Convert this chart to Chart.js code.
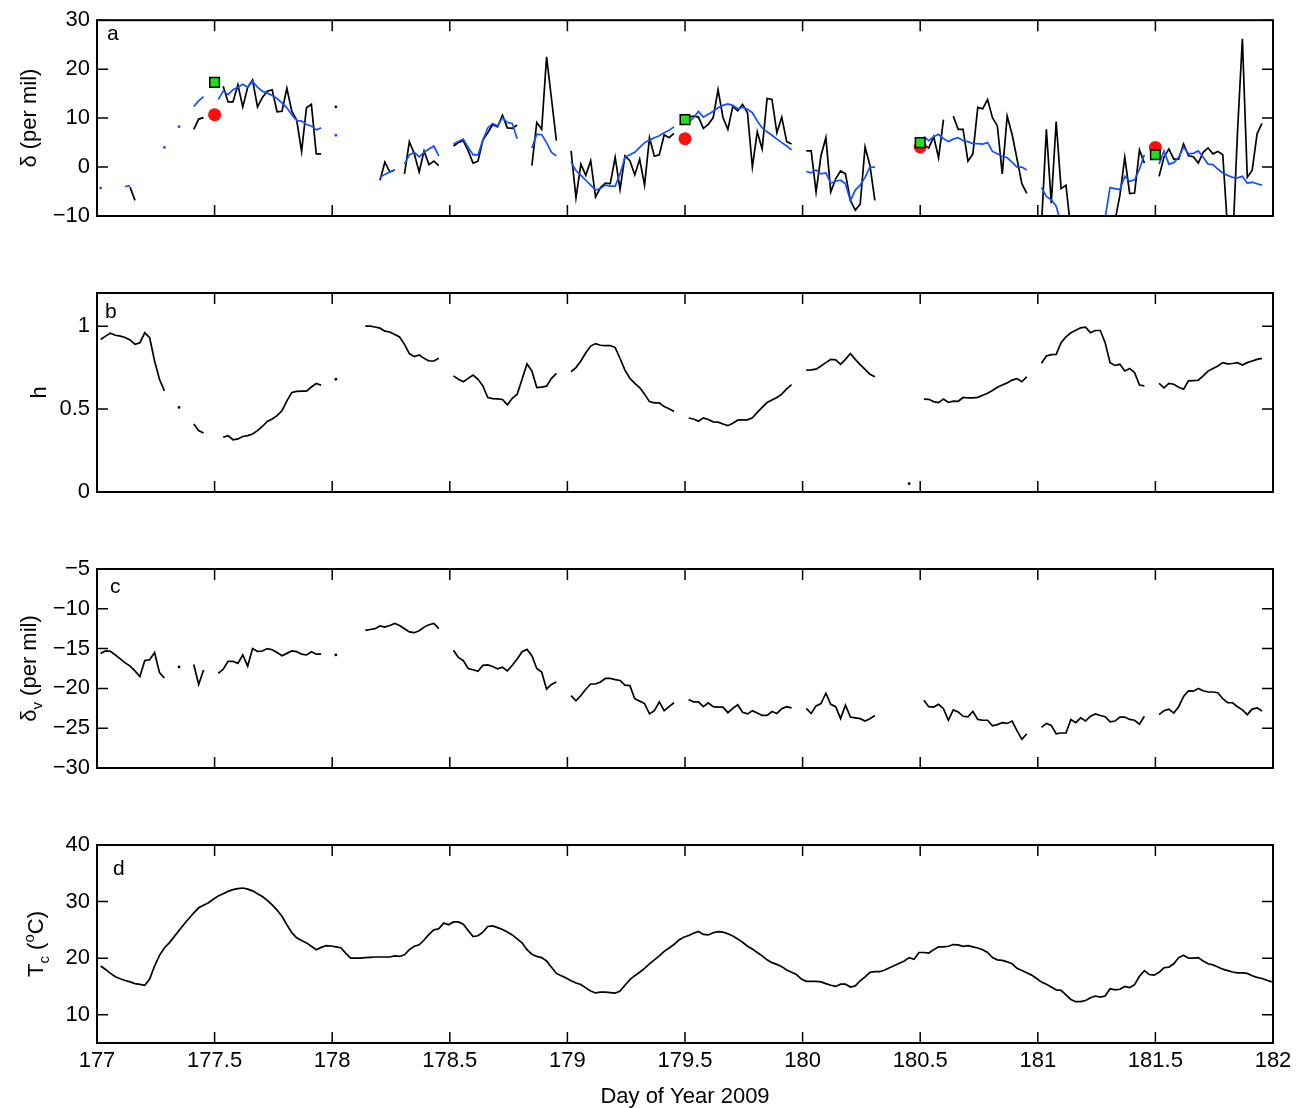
<!DOCTYPE html>
<html>
<head>
<meta charset="utf-8">
<script src="https://cdn.jsdelivr.net/npm/chart.js@4.4.1/dist/chart.umd.min.js"></script>
<style>
html,body{margin:0;padding:0;background:#fff;}
#wrap{position:relative;width:1302px;height:1108px;background:#fff;}
#wrap canvas{position:absolute;left:0;top:0;}
</style>
</head>
<body>
<div id="wrap">
<canvas id="pa" width="1302" height="1108"></canvas>
<canvas id="pb" width="1302" height="1108"></canvas>
<canvas id="pc" width="1302" height="1108"></canvas>
<canvas id="pd" width="1302" height="1108"></canvas>
</div>
<script>
// ---------------- data ----------------
// half-hourly samples; sample j is at day 177 + (j + 0.75)/48
const nSamples = 240;
const firstOffset = 0.75;
const samplesPerDay = 48;
const startDay = 177;

const xTicks = [177, 177.5, 178, 178.5, 179, 179.5, 180, 180.5, 181, 181.5, 182];
const aYTicks = [-10, 0, 10, 20, 30];
const bYTicks = [0, 0.5, 1];
const cYTicks = [-30, -25, -20, -15, -10, -5];
const dYTicks = [10, 20, 30, 40];

// panel a: delta (per mil), black = measured, blue = smoothed; segments [startSample, values]
const deltaBlackSegs = [
  [6, [-4.1, -6.8]],
  [19, [7.7, 9.8, 10.1]],
  [25, [16.5, 13.3, 13.3, 16.8, 12.3, 16.3, 17.8, 12.3, 14.2, 15.5, 15.8, 11.3, 11.4, 16.1, 11.4, 9.6, 3.2, 12.1, 12.8, 2.7, 2.7]],
  [48, [12.3]],
  [57, [-2.7, 1.0, -1.0, -0.6]],
  [62, [-1.4, 5.2, 2.7, -1.0, 3.3, 0.5, 1.2, 0.3]],
  [72, [4.3, 5.0, 5.4, 3.3, 0.8, 1.2, 5.5, 7.0, 8.7, 8.2, 10.6, 8.0, 7.9, 8.6]],
  [88, [0.3, 9.1, 7.7, 22.5, 14.0, 5.4]],
  [96, [3.3, -6.3, 0.6, -1.7, 1.3, -6.1, -4.2, -3.3, -3.4, 2.0, -4.6, 2.3, 1.3, -1.6, 1.6, -3.7, 6.0, 2.2, 2.5, 6.6, 6.0, 6.9]],
  [120, [10.2, 10.4, 10.2, 7.9, 8.7, 10.1, 15.8, 10.1, 7.7, 12.4, 11.5, 12.8, 11.1, 0.0, 7.2, 3.7, 14.0, 13.8, 7.0, 10.2, 5.2, 4.7]],
  [144, [3.3, 3.3, -5.1, 2.3, 6.0, -5.1, -2.4, -0.8, -1.4, -6.8, -8.8, -7.6, 4.1, 0.3, -6.8]],
  [168, [4.5, 3.9, 6.2, 1.9, 9.7]],
  [174, [10.4, 7.7, 7.7, 1.2, 2.7, 12.2, 11.9, 13.8, 10.1, 8.4, -1.4, 10.4, 6.7, 1.7, -3.4, -5.4]],
  [192, [-12, 7.7, -7.4, 9.3, -4.4, -3.7, -13, -15, -14, -16, -15, -14, -15, -14, -12, -11, -5.8, 2.0, -5.4, -5.3, 3.5, 0.8]],
  [216, [-1.9, 2.0, 3.7, 1.6, 1.6, 4.7, 2.3, 2.1, 0.8, 3.0, 3.9, 2.7, 3.2, 2.5, -13, -16, 7, 26.2, -2.1, -0.7, 6.8, 8.9]]
];
const deltaBlueSegs = [
  [0, [-4.3]],
  [5, [-4.0, -3.8]],
  [13, [4.0]],
  [16, [8.25]],
  [19, [12.4, 13.5, 14.4]],
  [24, [13.8, 15.5, 14.8, 15.8, 16.3, 16.9, 16.3, 17.5, 16.3, 15.5, 15.1, 14.6, 14.0, 13.1, 12.1, 10.7, 9.5, 9.4, 8.7, 8.4, 7.6, 8.0]],
  [48, [6.5]],
  [57, [-2.1, -1.5, -1.0, -0.6]],
  [62, [0.6, 2.5, 3.0, 2.1, 3.0, 3.7, 4.3, 2.3]],
  [72, [4.7, 5.2, 5.7, 4.0, 2.5, 2.5, 5.5, 8.0, 8.9, 8.4, 10.1, 9.1, 8.9, 5.8]],
  [88, [3.9, 6.7, 6.6, 5.0, 3.0, 2.3]],
  [96, [1.0, -0.7, -1.7, -2.7, -3.7, -4.7, -4.4, -3.7, -3.9, -3.9, -1.4, 2.0, 2.5, 3.0, 4.0, 5.0, 5.5, 6.0, 6.4, 7.0, 7.5, 8.2]],
  [120, [9.1, 10.1, 11.4, 10.2, 10.8, 11.4, 12.1, 12.6, 12.9, 12.6, 11.9, 12.2, 11.8, 11.1, 9.4, 8.0, 7.2, 6.5, 5.7, 5.0, 4.3, 3.5]],
  [144, [-0.9, -1.2, -0.6, -1.4, -1.2, -3.3, -2.9, -2.7, -3.4, -6.9, -4.7, -3.7, -2.1, 0.0, 0.0]],
  [168, [6.2, 5.4, 6.2, 6.7, 5.8, 5.2, 5.7, 6.0, 5.4, 5.2, 4.8, 4.8, 4.7, 5.0, 3.2, 2.7, 2.2, 1.9, 1.0, 0.0, 0.0, -0.6]],
  [192, [-4.2, -6.0, -6.7, -8.0, -11.5, -13, -15, -16, -15, -16, -15, -14, -13, -10.3, -4.2, -4.4, -4.6, -1.9, -2.9, -2.6, -0.4, 2.5]],
  [216, [0.6, 3.3, 0.6, 0.9, 2.0, 4.1, 2.7, 2.8, 3.3, 2.0, 0.6, 0.5, -0.4, -1.2, -1.7, -2.1, -2.2, -1.9, -3.3, -3.1, -3.4, -3.7]]
];
const markerDays = [177.5, 179.5, 180.5, 181.5];
const redValues = [10.7, 5.8, 4.1, 4.0];
const greenValues = [17.3, 9.7, 5.0, 2.5];

// panel b: h
const hSegs = [
  [0, [0.92, 0.94, 0.958, 0.945, 0.94, 0.932, 0.917, 0.89, 0.90, 0.96, 0.93, 0.79, 0.68, 0.61]],
  [16, [0.51]],
  [19, [0.41, 0.37, 0.356]],
  [25, [0.33, 0.34, 0.315, 0.32, 0.335, 0.34, 0.35, 0.37, 0.395, 0.425, 0.44, 0.46, 0.49, 0.55, 0.60, 0.607, 0.608, 0.608, 0.633, 0.654, 0.644]],
  [48, [0.68]],
  [54, [1.0, 1.0, 0.995, 0.988, 0.97, 0.965, 0.95, 0.935, 0.89, 0.835, 0.816, 0.826, 0.806, 0.79, 0.79, 0.806]],
  [72, [0.70, 0.68, 0.665, 0.685, 0.705, 0.68, 0.64, 0.57, 0.563, 0.562, 0.558, 0.525, 0.565, 0.59, 0.68, 0.772, 0.73, 0.63, 0.632, 0.638, 0.685, 0.715]],
  [96, [0.725, 0.75, 0.79, 0.84, 0.88, 0.895, 0.885, 0.883, 0.883, 0.871, 0.805, 0.735, 0.686, 0.655, 0.63, 0.59, 0.545, 0.538, 0.537, 0.515, 0.502, 0.486]],
  [120, [0.446, 0.44, 0.427, 0.447, 0.437, 0.423, 0.421, 0.41, 0.40, 0.415, 0.433, 0.435, 0.435, 0.447, 0.48, 0.51, 0.54, 0.555, 0.57, 0.59, 0.622, 0.648]],
  [144, [0.735, 0.737, 0.741, 0.76, 0.78, 0.80, 0.797, 0.77, 0.80, 0.835, 0.80, 0.768, 0.74, 0.71, 0.695]],
  [165, [0.05]],
  [168, [0.56, 0.559, 0.545, 0.539, 0.56, 0.54, 0.548, 0.547, 0.57, 0.567, 0.568, 0.571, 0.583, 0.595, 0.612, 0.632, 0.645, 0.658, 0.675, 0.684, 0.665, 0.695]],
  [192, [0.776, 0.82, 0.828, 0.83, 0.9, 0.935, 0.96, 0.975, 0.99, 0.994, 0.96, 0.974, 0.974, 0.9, 0.78, 0.763, 0.77, 0.73, 0.745, 0.72, 0.645, 0.64]],
  [216, [0.655, 0.628, 0.655, 0.65, 0.632, 0.62, 0.67, 0.672, 0.674, 0.70, 0.729, 0.745, 0.76, 0.78, 0.773, 0.775, 0.78, 0.766, 0.78, 0.79, 0.80, 0.806]]
];

// panel c: delta_v (per mil)
const deltaVSegs = [
  [0, [-15.6, -15.3, -15.35, -15.8, -16.3, -16.8, -17.2, -17.8, -18.5, -16.5, -16.4, -15.5, -18.0, -18.7]],
  [16, [-17.3]],
  [19, [-17.0, -19.5, -17.7]],
  [24, [-18.1, -17.6, -16.6, -16.6, -16.85, -15.8, -17.2, -15.0, -15.35, -15.3, -15.0, -15.15, -15.5, -15.9, -15.6, -15.3, -15.37, -15.7, -15.8, -15.4, -15.7, -15.7]],
  [48, [-15.8]],
  [54, [-12.7, -12.6, -12.5, -12.15, -12.3, -12.1, -11.85, -12.1, -12.5, -12.9, -13.0, -12.75, -12.3, -12.0, -11.85, -12.5]],
  [72, [-15.2, -16.1, -16.5, -17.5, -17.65, -17.85, -17.1, -17.05, -17.25, -17.55, -17.35, -17.8, -17.1, -16.3, -15.4, -15.1, -15.9, -17.5, -17.94, -20.1, -19.5, -19.2]],
  [96, [-20.9, -21.55, -20.9, -20.1, -19.45, -19.45, -19.2, -18.75, -18.75, -18.9, -19.0, -19.6, -19.65, -21.3, -21.6, -21.9, -23.2, -22.8, -21.7, -22.8, -22.3, -21.8]],
  [120, [-21.4, -21.7, -21.7, -22.3, -21.8, -22.3, -22.35, -22.35, -23.05, -22.5, -22.05, -23.0, -23.2, -22.8, -23.1, -23.4, -23.4, -22.9, -23.15, -22.55, -22.3, -22.44]],
  [144, [-22.5, -23.15, -22.2, -21.9, -20.6, -22.0, -22.3, -23.8, -22.1, -23.6, -23.7, -23.8, -24.1, -23.8, -23.4]],
  [168, [-21.5, -22.3, -22.35, -22.0, -22.55, -24.0, -22.7, -22.95, -23.5, -23.57, -22.9, -23.9, -24.0, -24.0, -24.7, -24.55, -24.3, -24.4, -24.1, -25.3, -26.4, -25.7]],
  [192, [-24.9, -24.4, -24.65, -25.7, -25.6, -25.6, -23.9, -24.3, -23.7, -24.1, -23.5, -23.2, -23.4, -23.55, -24.2, -24.1, -23.6, -23.6, -23.9, -24.0, -24.5, -23.5]],
  [216, [-23.3, -22.8, -22.6, -23.1, -22.3, -21.0, -20.3, -20.35, -20.0, -20.3, -20.45, -20.45, -20.55, -21.3, -21.8, -21.8, -22.3, -22.7, -23.3, -22.6, -22.45, -22.85]]
];

// panel d: T_c (degC), every sample
const tcValues = [
  18.6, 18.0, 17.3, 16.7, 16.35, 16.05, 15.8, 15.5, 15.35, 15.2,
  16.3, 18.6, 20.5, 21.8, 22.7, 23.8, 24.9, 26.0, 27.0, 28.0,
  28.9, 29.35, 29.8, 30.4, 31.0, 31.4, 31.8, 32.1, 32.3, 32.4,
  32.2, 31.9, 31.4, 30.9, 30.2, 29.4, 28.5, 27.4, 25.9, 24.5,
  23.6, 23.1, 22.7, 22.1, 21.5, 21.9, 22.2, 22.15, 22.0, 21.85,
  20.9, 20.0, 20.0, 20.0, 20.1, 20.15, 20.2, 20.2, 20.2, 20.2,
  20.4, 20.3, 20.6, 21.5, 22.1, 22.35, 23.2, 24.2, 25.0, 25.2,
  26.2, 25.9, 26.4, 26.4, 26.0, 24.9, 23.8, 23.95, 24.6, 25.6,
  25.7, 25.4, 25.05, 24.6, 24.1, 23.4, 22.7, 21.5, 20.7, 20.3,
  20.1, 19.5, 18.4, 17.3, 16.9, 16.5, 16.0, 15.6, 15.35, 14.75,
  14.2, 13.85, 14.0, 14.0, 13.9, 13.8, 14.2, 15.2, 16.2, 16.9,
  17.5, 18.2, 19.0, 19.7, 20.4, 21.2, 21.8, 22.4, 23.2, 23.7,
  24.0, 24.4, 24.7, 24.2, 24.1, 24.5, 24.7, 24.6, 24.3, 23.9,
  23.4, 22.8, 22.1, 21.6, 21.0, 20.4, 19.7, 19.2, 18.9, 18.5,
  17.9, 17.5, 17.1, 16.3, 15.9, 15.9, 15.9, 15.8, 15.5, 15.2,
  15.0, 15.4, 15.4, 14.9, 15.1, 16.0, 16.7, 17.5, 17.6, 17.6,
  17.9, 18.3, 18.7, 19.1, 19.5, 20.1, 19.8, 21.0, 21.0, 20.9,
  21.5, 22.0, 22.0, 22.1, 22.4, 22.35, 22.1, 22.2, 22.0, 21.8,
  21.5, 21.0, 20.1, 19.7, 19.6, 19.35, 19.0, 18.2, 17.8, 17.4,
  17.0, 16.4, 15.8, 15.4, 14.9, 14.4, 14.3, 13.5, 12.7, 12.3,
  12.3, 12.5, 13.0, 13.3, 13.1, 13.3, 14.6, 14.4, 14.5, 15.0,
  14.8, 15.3, 16.8, 17.8, 17.1, 17.0, 17.5, 18.3, 18.4, 19.0,
  20.1, 20.5, 20.0, 20.0, 20.1, 19.5, 19.0, 18.8, 18.45, 18.05,
  17.8, 17.55, 17.4, 17.4, 17.3, 16.9, 16.6, 16.4, 16.1, 15.8
];

// ---------------- helpers ----------------
const dayOfYear = Array.from({length: nSamples}, (v, j) => startDay + (j + firstOffset) / samplesPerDay);
function expand(segs) {
  const arr = new Array(nSamples).fill(null);
  segs.forEach(([s, vals]) => vals.forEach((v, k) => { arr[s + k] = v; }));
  return arr;
}
function toXY(values) { return values.map((v, j) => ({x: dayOfYear[j], y: v})); }
function markersXY(vals) { return markerDays.map((d, k) => ({x: d, y: vals[k]})); }

const FONT = '"Liberation Sans", Arial, Helvetica, sans-serif';
const W = 1302, H = 1108;
const PLOT_LEFT = 97, PLOT_RIGHT = 1273;
const TICK_LEN = 11;
const LINE_W = 1.7;

function isolatedRadius(r) {
  return (ctx) => {
    const d = ctx.dataset.data, i = ctx.dataIndex;
    const has = (k) => k >= 0 && k < d.length && d[k] && d[k].y !== null;
    return (!has(i - 1) && !has(i + 1)) ? r : 0;
  };
}
function lineDataset(values, color) {
  return {
    data: toXY(values), borderColor: color, backgroundColor: color, borderWidth: LINE_W,
    pointRadius: isolatedRadius(1.4), pointBorderWidth: 0, pointHoverRadius: 0,
    spanGaps: false, tension: 0, fill: false, borderJoinStyle: 'miter'
  };
}
function minusFmt(v) { return v < 0 ? '\u2212' + Math.abs(v) : String(v); }

function drawRuns(ctx, runs, bx, cy) {
  ctx.save();
  ctx.translate(bx, cy);
  ctx.rotate(-Math.PI / 2);
  let total = 0;
  runs.forEach(r => { ctx.font = r.size + 'px ' + FONT; r.w = ctx.measureText(r.t).width; total += r.w; });
  let x = -total / 2;
  ctx.fillStyle = '#000';
  ctx.textAlign = 'left';
  ctx.textBaseline = 'alphabetic';
  runs.forEach(r => { ctx.font = r.size + 'px ' + FONT; ctx.fillText(r.t, x, r.dy || 0); x += r.w; });
  ctx.restore();
}

const frameTicks = {
  id: 'frameTicks',
  afterDatasetsDraw(chart, args, opts) {
    const {ctx, chartArea: a, scales} = chart;
    ctx.save();
    ctx.strokeStyle = '#000';
    ctx.lineWidth = 1.5;
    ctx.beginPath();
    xTicks.forEach(v => {
      const px = scales.x.getPixelForValue(v);
      ctx.moveTo(px, a.bottom); ctx.lineTo(px, a.bottom - TICK_LEN);
      ctx.moveTo(px, a.top); ctx.lineTo(px, a.top + TICK_LEN);
    });
    opts.yTicks.forEach(v => {
      const py = scales.y.getPixelForValue(v);
      ctx.moveTo(a.left, py); ctx.lineTo(a.left + TICK_LEN, py);
      ctx.moveTo(a.right, py); ctx.lineTo(a.right - TICK_LEN, py);
    });
    ctx.stroke();
    ctx.lineWidth = 2;
    ctx.strokeRect(a.left, a.top, a.right - a.left, a.bottom - a.top);
    // panel letter
    ctx.fillStyle = '#000';
    ctx.font = '21px ' + FONT;
    ctx.textAlign = 'left';
    ctx.textBaseline = 'alphabetic';
    ctx.fillText(opts.letter, a.left + opts.letterDx, a.top + opts.letterDy);
    // y label
    drawRuns(ctx, opts.ylabel, opts.ylabelX, (a.top + a.bottom) / 2);
    if (opts.xlabel) {
      ctx.font = '22px ' + FONT;
      ctx.textAlign = 'center';
      ctx.fillText(opts.xlabel, (a.left + a.right) / 2, opts.xlabelY);
    }
    ctx.restore();
  }
};

function makePanel(id, p) {
  const showX = !!p.showX;
  return new Chart(document.getElementById(id), {
    type: 'line',
    data: {datasets: p.datasets},
    plugins: [frameTicks],
    options: {
      responsive: false, animation: false, devicePixelRatio: 1, events: [],
      layout: {padding: {left: 0, right: W - PLOT_RIGHT, top: p.top, bottom: showX ? H - p.bottom - 60 : H - p.bottom}},
      plugins: {
        legend: {display: false}, tooltip: {enabled: false},
        frameTicks: {yTicks: p.yTicks, letter: p.letter, letterDx: p.letterDx, letterDy: p.letterDy,
                     ylabel: p.ylabel, ylabelX: p.ylabelX, xlabel: p.xlabel, xlabelY: p.xlabelY}
      },
      scales: {
        x: {
          type: 'linear', min: 177, max: 182, display: showX,
          afterBuildTicks: s => { s.ticks = xTicks.map(v => ({value: v})); },
          afterFit: s => { if (showX) s.height = 60; },
          grid: {display: false, drawTicks: false}, border: {display: false},
          ticks: {padding: 5, color: '#000', font: {family: FONT, size: 22}, maxRotation: 0, autoSkip: false,
                  callback: v => String(v)}
        },
        y: {
          type: 'linear', min: p.yMin, max: p.yMax,
          afterBuildTicks: s => { s.ticks = p.yTicks.map(v => ({value: v})); },
          afterFit: s => { s.width = PLOT_LEFT; },
          grid: {display: false, drawTicks: false}, border: {display: false},
          ticks: {padding: 7, color: '#000', font: {family: FONT, size: 22}, callback: v => minusFmt(v)}
        }
      }
    }
  });
}

const BLUE = '#1450ff';

makePanel('pa', {
  top: 18, bottom: 216, yMin: -10, yMax: 30, yTicks: aYTicks, letter: 'a', letterDx: 10, letterDy: 20,
  ylabel: [{t: '\u03b4 (per mil)', size: 22}], ylabelX: 36,
  datasets: [
    {data: markersXY(greenValues), showLine: false, pointStyle: 'rect', pointRadius: 6.8,
     backgroundColor: '#1fe01f', borderColor: '#000', pointBorderWidth: 1.5, pointBorderColor: '#000', pointBackgroundColor: '#1fe01f'},
    {data: markersXY(redValues), showLine: false, pointStyle: 'circle', pointRadius: 6.5,
     backgroundColor: '#ff1010', borderColor: '#ff1010', pointBorderWidth: 0, pointBackgroundColor: '#ff1010'},
    lineDataset(expand(deltaBlueSegs), BLUE),
    lineDataset(expand(deltaBlackSegs), '#000')
  ]
});

makePanel('pb', {
  top: 293, bottom: 492, yMin: 0, yMax: 1.2, yTicks: bYTicks, letter: 'b', letterDx: 8, letterDy: 25,
  ylabel: [{t: 'h', size: 22}], ylabelX: 46,
  datasets: [lineDataset(expand(hSegs), '#000')]
});

makePanel('pc', {
  top: 569, bottom: 768, yMin: -30, yMax: -5, yTicks: cYTicks, letter: 'c', letterDx: 13, letterDy: 24,
  ylabel: [{t: '\u03b4', size: 22}, {t: 'v', size: 15, dy: 6}, {t: ' (per mil)', size: 22}], ylabelX: 36,
  datasets: [lineDataset(expand(deltaVSegs), '#000')]
});

makePanel('pd', {
  top: 845, bottom: 1043, yMin: 5, yMax: 40, yTicks: dYTicks, letter: 'd', letterDx: 16, letterDy: 30,
  ylabel: [{t: 'T', size: 22}, {t: 'c', size: 15, dy: 6}, {t: ' (', size: 22}, {t: 'o', size: 15, dy: -9}, {t: 'C)', size: 22}], ylabelX: 43,
  showX: true, xlabel: 'Day of Year 2009', xlabelY: 1103,
  datasets: [lineDataset(tcValues, '#000')]
});
</script>
</body>
</html>
